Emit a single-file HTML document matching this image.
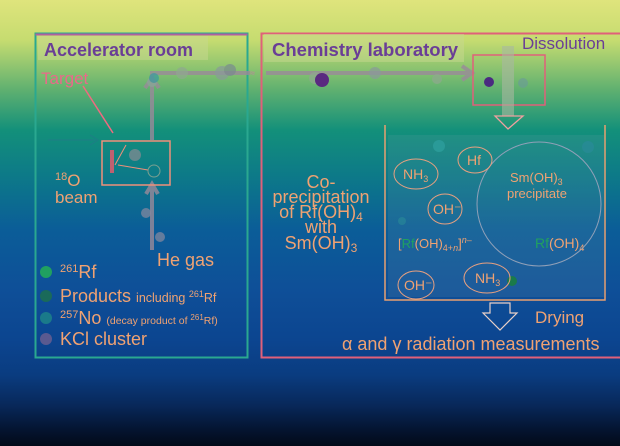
<!DOCTYPE html>
<html><head><meta charset="utf-8"><style>
html,body{margin:0;padding:0}
body{width:620px;height:446px;overflow:hidden;background:linear-gradient(180deg,#dfe47c 0px,#c6dc70 40px,#5fb070 90px,#13907a 130px,#0d7a88 175px,#0b5d98 230px,#0e4f98 290px,#0c4590 340px,#0a3c80 375px,#08285a 405px,#041430 430px,#020a18 446px)}
svg{position:absolute;left:0;top:0}
text{font-family:"Liberation Sans",sans-serif;fill:#f0a272}
</style></head><body>
<svg width="620" height="446" viewBox="0 0 620 446">
<rect x="35.5" y="33.5" width="212" height="324" fill="none" stroke="#2aa890" stroke-width="2"/>
<rect x="35.5" y="33.5" width="212" height="2" fill="#b060a0"/>
<rect x="261.5" y="33.5" width="360" height="324" fill="none" stroke="#e0607a" stroke-width="2"/>
<rect x="38" y="36" width="170" height="24" fill="#c8d890" opacity="0.5"/>
<text x="44" y="56" font-size="18" font-weight="bold" style="fill:#6a3e96">Accelerator room</text>
<rect x="264" y="34" width="200" height="28" fill="#c8d890" opacity="0.5"/>
<text x="272" y="56" font-size="18.5" font-weight="bold" style="fill:#6a3e96">Chemistry laboratory</text>
<g stroke="#9a8a9a" stroke-width="4" fill="none" opacity="0.8">
<path d="M152 250 V188"/><path d="M152 140 V73 H250"/><path d="M266 73 H470"/>
<path d="M145 88 L152 78 L159 88"/><path d="M146 194 L152 184 L158 194"/>
<path d="M462 66 L472 73 L462 80"/>
</g>
<text x="250" y="76" font-size="9" style="fill:#c080a0">≈</text>
<g opacity="0.7">
<circle cx="182" cy="73" r="6" fill="#90a890"/>
<circle cx="222" cy="73" r="7" fill="#8a9a9a"/><circle cx="230" cy="70" r="6" fill="#7a8a90"/>
<circle cx="152" cy="82" r="5" fill="#88a898"/><circle cx="154" cy="78" r="5" fill="#3a9aa0"/>
<circle cx="146" cy="213" r="5" fill="#8a8aa0"/><circle cx="160" cy="237" r="5" fill="#8a8aa0"/>
<circle cx="315" cy="78" r="6" fill="#90a890"/><circle cx="375" cy="73" r="6" fill="#8a9a9a"/>
<circle cx="437" cy="79" r="5" fill="#90a890"/>
</g>
<circle cx="322" cy="80" r="7" fill="#5a2a80"/>
<rect x="102" y="141" width="68" height="44" fill="none" stroke="#f0907a" stroke-width="1.5"/>
<rect x="110" y="150" width="4" height="23" fill="#c06070"/>
<line x1="83" y1="86" x2="113" y2="133" stroke="#f06a80" stroke-width="1.5"/>
<line x1="115" y1="165" x2="126" y2="145" stroke="#f0907a"/>
<line x1="118" y1="165" x2="148" y2="170" stroke="#f0907a"/>
<circle cx="135" cy="155" r="6" fill="#7a8a90" opacity="0.8"/>
<circle cx="154" cy="171" r="6" fill="none" stroke="#7aa090"/>
<text x="41" y="84" font-size="17" style="fill:#e86a8a">Target</text>
<path d="M48 140 H95 M90 135 L98 140 L90 145" stroke="#2a7090" fill="none" opacity="0.5"/>
<text x="55" y="186" font-size="17"><tspan font-size="11" dy="-6">18</tspan><tspan dy="6">O</tspan></text>
<text x="55" y="203" font-size="17">beam</text>
<text x="157" y="266" font-size="18">He gas</text>
<circle cx="46" cy="272" r="6" fill="#20a060"/>
<text x="60" y="278" font-size="18"><tspan font-size="11" dy="-6">261</tspan><tspan dy="6">Rf</tspan></text>
<circle cx="46" cy="296" r="6" fill="#1a6a5a"/>
<text x="60" y="302" font-size="18">Products <tspan font-size="12.5">including <tspan font-size="9" dy="-5">261</tspan><tspan dy="5">Rf</tspan></tspan></text>
<circle cx="46" cy="318" r="6" fill="#1a7a8a"/>
<text x="60" y="324" font-size="18"><tspan font-size="11" dy="-6">257</tspan><tspan dy="6">No </tspan><tspan font-size="10.5">(decay product of <tspan font-size="8" dy="-4">261</tspan><tspan dy="4">Rf)</tspan></tspan></text>
<circle cx="46" cy="339" r="6" fill="#5a5a90"/>
<text x="60" y="345" font-size="18">KCl cluster</text>
<text x="522" y="49" font-size="17" style="fill:#6a3e96">Dissolution</text>
<rect x="473" y="55" width="72" height="50" fill="none" stroke="#e0607a" stroke-width="1.5"/>
<path d="M508 46 V116" stroke="#a8b8a0" stroke-width="12" fill="none" opacity="0.6"/>
<path d="M495 116 H523 L508 129 Z" fill="none" stroke="#f0a0a0" stroke-width="1.3"/>
<circle cx="489" cy="82" r="5" fill="#4a2a80"/>
<circle cx="523" cy="83" r="5" fill="#6a9a9a" opacity="0.6"/>
<rect x="388" y="135" width="216" height="162" fill="#7aa0b0" opacity="0.15"/>
<path d="M385 125 V300 H605 V125" fill="none" stroke="#e8a070" stroke-width="1.5"/>
<circle cx="539" cy="204" r="62" fill="none" stroke="#90a0b8" stroke-width="1"/>
<circle cx="439" cy="146" r="6" fill="#2a9a98"/><circle cx="588" cy="147" r="6" fill="#2a8a98" opacity="0.7"/>
<circle cx="402" cy="221" r="4" fill="#2a8a98" opacity="0.6"/>
<circle cx="512" cy="281" r="5" fill="#1a7a4a"/>
<g fill="none" stroke="#e8a080">
<ellipse cx="416" cy="174" rx="22" ry="15"/><ellipse cx="475" cy="160" rx="17" ry="13"/>
<ellipse cx="445" cy="209" rx="17" ry="15"/><ellipse cx="416" cy="285" rx="18" ry="14"/>
<ellipse cx="487" cy="278" rx="23" ry="15"/>
</g>
<text x="403" y="179" font-size="14">NH<tspan font-size="9" dy="3">3</tspan></text>
<text x="467" y="165" font-size="14">Hf</text>
<text x="433" y="214" font-size="14">OH⁻</text>
<text x="404" y="290" font-size="14">OH⁻</text>
<text x="475" y="283" font-size="14">NH<tspan font-size="9" dy="3">3</tspan></text>
<text x="510" y="182" font-size="13">Sm(OH)<tspan font-size="9" dy="3">3</tspan></text>
<text x="507" y="198" font-size="13">precipitate</text>
<text x="535" y="248" font-size="14"><tspan style="fill:#20a060">Rf</tspan>(OH)<tspan font-size="9" dy="3">4</tspan></text>
<text x="398" y="248" font-size="13">[<tspan style="fill:#20a060">Rf</tspan>(OH)<tspan font-size="9" dy="3">4+<tspan font-style="italic">n</tspan></tspan><tspan dy="-3">]</tspan><tspan font-size="9" dy="-5"><tspan font-style="italic">n</tspan>–</tspan></text>
<g font-size="18" text-anchor="middle">
<text x="321" y="188">Co-</text><text x="321" y="203">precipitation</text>
<text x="321" y="218">of Rf(OH)<tspan font-size="12" dy="3">4</tspan></text>
<text x="321" y="233">with</text>
<text x="321" y="249">Sm(OH)<tspan font-size="12" dy="3">3</tspan></text>
</g>
<path d="M490 303 H510 V313 H517 L500 330 L483 313 H490 Z" fill="none" stroke="#e8d0c8" stroke-width="1.2"/>
<text x="535" y="323" font-size="17">Drying</text>
<text x="342" y="350" font-size="18">α and γ radiation measurements</text>
</svg>
</body></html>
